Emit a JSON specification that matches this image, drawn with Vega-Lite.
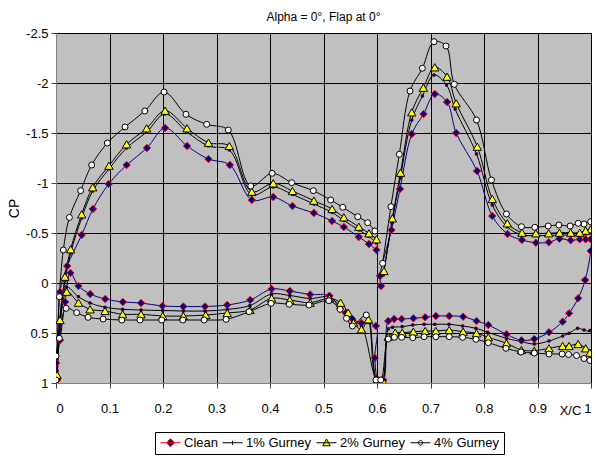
{
"$schema":"https://vega.github.io/schema/vega-lite/v6.json",
"width":535,"height":350,
"autosize":{"type":"none"},
"padding":{"left":56,"top":33,"right":5,"bottom":76},
"background":"white",
"title":{"text":"Alpha = 0°, Flap at 0°","font":"Liberation Sans","fontSize":12,"fontWeight":"normal","color":"black","offset":3},
"config":{"view":{"fill":"#c0c0c0","stroke":"#808080"},
"axis":{"labelFont":"Liberation Sans","labelFontSize":13,"labelColor":"black","titleFont":"Liberation Sans","titleColor":"black","titleFontWeight":"normal","grid":true,"gridColor":"black","gridWidth":1,"gridOpacity":1,"domainColor":"#808080","tickColor":"#404040","tickSize":5}},
"data":{"values":[
{"s":"Clean","i":1,"x":0.599,"cp":-0.33},{"s":"Clean","i":2,"x":0.585,"cp":-0.39},{"s":"Clean","i":3,"x":0.566,"cp":-0.46},{"s":"Clean","i":4,"x":0.538,"cp":-0.56},{"s":"Clean","i":5,"x":0.516,"cp":-0.62},{"s":"Clean","i":6,"x":0.482,"cp":-0.7},{"s":"Clean","i":7,"x":0.442,"cp":-0.77},{"s":"Clean","i":8,"x":0.406,"cp":-0.86},{"s":"Clean","i":9,"x":0.366,"cp":-0.83},{"s":"Clean","i":10,"x":0.325,"cp":-1.18},{"s":"Clean","i":11,"x":0.285,"cp":-1.24},{"s":"Clean","i":12,"x":0.245,"cp":-1.37},{"s":"Clean","i":13,"x":0.204,"cp":-1.55},{"s":"Clean","i":14,"x":0.17,"cp":-1.35},{"s":"Clean","i":15,"x":0.132,"cp":-1.18},{"s":"Clean","i":16,"x":0.0985,"cp":-0.99},{"s":"Clean","i":17,"x":0.069,"cp":-0.74},{"s":"Clean","i":18,"x":0.048,"cp":-0.48},{"s":"Clean","i":19,"x":0.021,"cp":-0.17},{"s":"Clean","i":20,"x":0.0075,"cp":0.09},{"s":"Clean","i":21,"x":0.0025,"cp":0.97},
{"s":"Clean","i":22,"x":0.0,"cp":0.8},{"s":"Clean","i":23,"x":0.0075,"cp":0.57},{"s":"Clean","i":24,"x":0.017,"cp":0.19},{"s":"Clean","i":25,"x":0.027,"cp":-0.1},{"s":"Clean","i":26,"x":0.042,"cp":0.03},{"s":"Clean","i":27,"x":0.064,"cp":0.11},{"s":"Clean","i":28,"x":0.092,"cp":0.16},{"s":"Clean","i":29,"x":0.125,"cp":0.19},{"s":"Clean","i":30,"x":0.159,"cp":0.2},{"s":"Clean","i":31,"x":0.199,"cp":0.23},{"s":"Clean","i":32,"x":0.238,"cp":0.235},{"s":"Clean","i":33,"x":0.2785,"cp":0.235},{"s":"Clean","i":34,"x":0.32,"cp":0.22},{"s":"Clean","i":35,"x":0.363,"cp":0.17},{"s":"Clean","i":36,"x":0.403,"cp":0.06},{"s":"Clean","i":37,"x":0.437,"cp":0.08},{"s":"Clean","i":38,"x":0.475,"cp":0.115},{"s":"Clean","i":39,"x":0.511,"cp":0.127},{"s":"Clean","i":40,"x":0.531,"cp":0.26},{"s":"Clean","i":41,"x":0.542,"cp":0.3},{"s":"Clean","i":42,"x":0.554,"cp":0.36},{"s":"Clean","i":43,"x":0.571,"cp":0.4},
{"s":"Clean","i":44,"x":0.598,"cp":0.43},{"s":"Clean","i":45,"x":0.596,"cp":0.75},{"s":"Clean","i":46,"x":0.6025,"cp":0.97},{"s":"Clean","i":47,"x":0.612,"cp":0.97},{"s":"Clean","i":48,"x":0.621,"cp":0.38},{"s":"Clean","i":49,"x":0.632,"cp":0.36},{"s":"Clean","i":50,"x":0.646,"cp":0.36},{"s":"Clean","i":51,"x":0.668,"cp":0.353},{"s":"Clean","i":52,"x":0.69,"cp":0.343},{"s":"Clean","i":53,"x":0.71,"cp":0.33},{"s":"Clean","i":54,"x":0.735,"cp":0.33},{"s":"Clean","i":55,"x":0.761,"cp":0.337},{"s":"Clean","i":56,"x":0.786,"cp":0.38},{"s":"Clean","i":57,"x":0.808,"cp":0.42},{"s":"Clean","i":58,"x":0.842,"cp":0.513},{"s":"Clean","i":59,"x":0.87,"cp":0.573},{"s":"Clean","i":60,"x":0.894,"cp":0.56},{"s":"Clean","i":61,"x":0.9215,"cp":0.493},{"s":"Clean","i":62,"x":0.947,"cp":0.387},{"s":"Clean","i":63,"x":0.959,"cp":0.303},{"s":"Clean","i":64,"x":0.976,"cp":0.153},{"s":"Clean","i":65,"x":0.989,"cp":-0.03},{"s":"Clean","i":66,"x":0.9995,"cp":-0.32},
{"s":"Clean","i":67,"x":0.9995,"cp":-0.437},{"s":"Clean","i":68,"x":0.99,"cp":-0.437},{"s":"Clean","i":69,"x":0.979,"cp":-0.437},{"s":"Clean","i":70,"x":0.962,"cp":-0.427},{"s":"Clean","i":71,"x":0.941,"cp":-0.443},{"s":"Clean","i":72,"x":0.921,"cp":-0.407},{"s":"Clean","i":73,"x":0.897,"cp":-0.403},{"s":"Clean","i":74,"x":0.871,"cp":-0.43},{"s":"Clean","i":75,"x":0.844,"cp":-0.49},{"s":"Clean","i":76,"x":0.8155,"cp":-0.67},{"s":"Clean","i":77,"x":0.787,"cp":-1.12},{"s":"Clean","i":78,"x":0.748,"cp":-1.5},{"s":"Clean","i":79,"x":0.731,"cp":-1.81},{"s":"Clean","i":80,"x":0.708,"cp":-1.89},{"s":"Clean","i":81,"x":0.687,"cp":-1.69},{"s":"Clean","i":82,"x":0.665,"cp":-1.49},{"s":"Clean","i":83,"x":0.643,"cp":-0.94},{"s":"Clean","i":84,"x":0.627,"cp":-0.53},{"s":"Clean","i":85,"x":0.6056,"cp":-0.07},{"s":"Clean","i":86,"x":0.6075,"cp":0.03},

{"s":"1% Gurney","i":1,"x":0.599,"cp":-0.4},{"s":"1% Gurney","i":2,"x":0.585,"cp":-0.465},{"s":"1% Gurney","i":3,"x":0.566,"cp":-0.53},{"s":"1% Gurney","i":4,"x":0.538,"cp":-0.625},{"s":"1% Gurney","i":5,"x":0.516,"cp":-0.705},{"s":"1% Gurney","i":6,"x":0.482,"cp":-0.79},{"s":"1% Gurney","i":7,"x":0.442,"cp":-0.885},{"s":"1% Gurney","i":8,"x":0.406,"cp":-0.96},{"s":"1% Gurney","i":9,"x":0.366,"cp":-0.88},{"s":"1% Gurney","i":10,"x":0.324,"cp":-1.33},{"s":"1% Gurney","i":11,"x":0.285,"cp":-1.37},{"s":"1% Gurney","i":12,"x":0.245,"cp":-1.51},{"s":"1% Gurney","i":13,"x":0.204,"cp":-1.69},{"s":"1% Gurney","i":14,"x":0.1695,"cp":-1.51},{"s":"1% Gurney","i":15,"x":0.132,"cp":-1.35},{"s":"1% Gurney","i":16,"x":0.099,"cp":-1.14},{"s":"1% Gurney","i":17,"x":0.0686,"cp":-0.92},{"s":"1% Gurney","i":18,"x":0.048,"cp":-0.65},{"s":"1% Gurney","i":19,"x":0.0274,"cp":-0.3},{"s":"1% Gurney","i":20,"x":0.0168,"cp":-0.02},{"s":"1% Gurney","i":21,"x":0.0075,"cp":0.42},{"s":"1% Gurney","i":22,"x":0.002,"cp":0.88},
{"s":"1% Gurney","i":23,"x":0.019,"cp":0.04},{"s":"1% Gurney","i":24,"x":0.0417,"cp":0.137},{"s":"1% Gurney","i":25,"x":0.0636,"cp":0.2},{"s":"1% Gurney","i":26,"x":0.0916,"cp":0.243},{"s":"1% Gurney","i":27,"x":0.1246,"cp":0.263},{"s":"1% Gurney","i":28,"x":0.159,"cp":0.27},{"s":"1% Gurney","i":29,"x":0.1994,"cp":0.275},{"s":"1% Gurney","i":30,"x":0.238,"cp":0.28},{"s":"1% Gurney","i":31,"x":0.2785,"cp":0.28},{"s":"1% Gurney","i":32,"x":0.32,"cp":0.265},{"s":"1% Gurney","i":33,"x":0.3626,"cp":0.225},{"s":"1% Gurney","i":34,"x":0.403,"cp":0.11},{"s":"1% Gurney","i":35,"x":0.437,"cp":0.125},{"s":"1% Gurney","i":36,"x":0.475,"cp":0.155},{"s":"1% Gurney","i":37,"x":0.511,"cp":0.14},{"s":"1% Gurney","i":38,"x":0.531,"cp":0.23},{"s":"1% Gurney","i":39,"x":0.544,"cp":0.3},{"s":"1% Gurney","i":40,"x":0.555,"cp":0.38},{"s":"1% Gurney","i":41,"x":0.571,"cp":0.43},
{"s":"1% Gurney","i":42,"x":0.6,"cp":0.97},{"s":"1% Gurney","i":43,"x":0.61,"cp":0.97},{"s":"1% Gurney","i":44,"x":0.621,"cp":0.46},{"s":"1% Gurney","i":45,"x":0.629,"cp":0.443},{"s":"1% Gurney","i":46,"x":0.647,"cp":0.437},{"s":"1% Gurney","i":47,"x":0.667,"cp":0.42},{"s":"1% Gurney","i":48,"x":0.688,"cp":0.413},{"s":"1% Gurney","i":49,"x":0.708,"cp":0.413},{"s":"1% Gurney","i":50,"x":0.7346,"cp":0.413},{"s":"1% Gurney","i":51,"x":0.76,"cp":0.43},{"s":"1% Gurney","i":52,"x":0.785,"cp":0.453},{"s":"1% Gurney","i":53,"x":0.807,"cp":0.493},{"s":"1% Gurney","i":54,"x":0.842,"cp":0.553},{"s":"1% Gurney","i":55,"x":0.87,"cp":0.587},{"s":"1% Gurney","i":56,"x":0.894,"cp":0.61},{"s":"1% Gurney","i":57,"x":0.9215,"cp":0.58},{"s":"1% Gurney","i":58,"x":0.947,"cp":0.53},{"s":"1% Gurney","i":59,"x":0.959,"cp":0.503},{"s":"1% Gurney","i":60,"x":0.975,"cp":0.453},{"s":"1% Gurney","i":61,"x":0.987,"cp":0.47},{"s":"1% Gurney","i":62,"x":0.998,"cp":0.477},
{"s":"1% Gurney","i":63,"x":0.9995,"cp":-0.5},{"s":"1% Gurney","i":64,"x":0.99,"cp":-0.49},{"s":"1% Gurney","i":65,"x":0.979,"cp":-0.48},{"s":"1% Gurney","i":66,"x":0.962,"cp":-0.48},{"s":"1% Gurney","i":67,"x":0.941,"cp":-0.48},{"s":"1% Gurney","i":68,"x":0.921,"cp":-0.475},{"s":"1% Gurney","i":69,"x":0.897,"cp":-0.475},{"s":"1% Gurney","i":70,"x":0.871,"cp":-0.48},{"s":"1% Gurney","i":71,"x":0.8436,"cp":-0.56},{"s":"1% Gurney","i":72,"x":0.8155,"cp":-0.78},{"s":"1% Gurney","i":73,"x":0.786,"cp":-1.29},{"s":"1% Gurney","i":74,"x":0.746,"cp":-1.74},{"s":"1% Gurney","i":75,"x":0.73,"cp":-1.98},{"s":"1% Gurney","i":76,"x":0.7065,"cp":-2.08},{"s":"1% Gurney","i":77,"x":0.685,"cp":-1.87},{"s":"1% Gurney","i":78,"x":0.665,"cp":-1.63},{"s":"1% Gurney","i":79,"x":0.6435,"cp":-1.05},{"s":"1% Gurney","i":80,"x":0.628,"cp":-0.6},{"s":"1% Gurney","i":81,"x":0.612,"cp":-0.08},

{"s":"2% Gurney","i":1,"x":0.599,"cp":-0.437},{"s":"2% Gurney","i":2,"x":0.585,"cp":-0.497},{"s":"2% Gurney","i":3,"x":0.566,"cp":-0.563},{"s":"2% Gurney","i":4,"x":0.538,"cp":-0.657},{"s":"2% Gurney","i":5,"x":0.516,"cp":-0.74},{"s":"2% Gurney","i":6,"x":0.482,"cp":-0.823},{"s":"2% Gurney","i":7,"x":0.442,"cp":-0.92},{"s":"2% Gurney","i":8,"x":0.406,"cp":-0.997},{"s":"2% Gurney","i":9,"x":0.366,"cp":-0.913},{"s":"2% Gurney","i":10,"x":0.324,"cp":-1.37},{"s":"2% Gurney","i":11,"x":0.285,"cp":-1.403},{"s":"2% Gurney","i":12,"x":0.245,"cp":-1.547},{"s":"2% Gurney","i":13,"x":0.204,"cp":-1.723},{"s":"2% Gurney","i":14,"x":0.1695,"cp":-1.547},{"s":"2% Gurney","i":15,"x":0.132,"cp":-1.387},{"s":"2% Gurney","i":16,"x":0.099,"cp":-1.173},{"s":"2% Gurney","i":17,"x":0.0686,"cp":-0.957},{"s":"2% Gurney","i":18,"x":0.048,"cp":-0.687},{"s":"2% Gurney","i":19,"x":0.0274,"cp":-0.337},{"s":"2% Gurney","i":20,"x":0.0168,"cp":-0.063},{"s":"2% Gurney","i":21,"x":0.0075,"cp":0.37},{"s":"2% Gurney","i":22,"x":0.002,"cp":0.92},
{"s":"2% Gurney","i":23,"x":0.02,"cp":0.087},{"s":"2% Gurney","i":24,"x":0.042,"cp":0.197},{"s":"2% Gurney","i":25,"x":0.0636,"cp":0.263},{"s":"2% Gurney","i":26,"x":0.0916,"cp":0.28},{"s":"2% Gurney","i":27,"x":0.1246,"cp":0.313},{"s":"2% Gurney","i":28,"x":0.159,"cp":0.313},{"s":"2% Gurney","i":29,"x":0.1994,"cp":0.33},{"s":"2% Gurney","i":30,"x":0.238,"cp":0.33},{"s":"2% Gurney","i":31,"x":0.28,"cp":0.32},{"s":"2% Gurney","i":32,"x":0.32,"cp":0.3},{"s":"2% Gurney","i":33,"x":0.3626,"cp":0.27},{"s":"2% Gurney","i":34,"x":0.403,"cp":0.153},{"s":"2% Gurney","i":35,"x":0.437,"cp":0.17},{"s":"2% Gurney","i":36,"x":0.475,"cp":0.197},{"s":"2% Gurney","i":37,"x":0.511,"cp":0.153},{"s":"2% Gurney","i":38,"x":0.532,"cp":0.197},{"s":"2% Gurney","i":39,"x":0.546,"cp":0.297},{"s":"2% Gurney","i":40,"x":0.556,"cp":0.397},{"s":"2% Gurney","i":41,"x":0.571,"cp":0.463},{"s":"2% Gurney","i":42,"x":0.584,"cp":0.363},
{"s":"2% Gurney","i":43,"x":0.6,"cp":0.97},{"s":"2% Gurney","i":44,"x":0.61,"cp":0.97},{"s":"2% Gurney","i":45,"x":0.621,"cp":0.537},{"s":"2% Gurney","i":46,"x":0.634,"cp":0.497},{"s":"2% Gurney","i":47,"x":0.647,"cp":0.497},{"s":"2% Gurney","i":48,"x":0.668,"cp":0.487},{"s":"2% Gurney","i":49,"x":0.69,"cp":0.48},{"s":"2% Gurney","i":50,"x":0.71,"cp":0.48},{"s":"2% Gurney","i":51,"x":0.735,"cp":0.47},{"s":"2% Gurney","i":52,"x":0.761,"cp":0.487},{"s":"2% Gurney","i":53,"x":0.786,"cp":0.503},{"s":"2% Gurney","i":54,"x":0.808,"cp":0.543},{"s":"2% Gurney","i":55,"x":0.842,"cp":0.603},{"s":"2% Gurney","i":56,"x":0.87,"cp":0.67},{"s":"2% Gurney","i":57,"x":0.894,"cp":0.677},{"s":"2% Gurney","i":58,"x":0.9215,"cp":0.653},{"s":"2% Gurney","i":59,"x":0.947,"cp":0.63},{"s":"2% Gurney","i":60,"x":0.959,"cp":0.63},{"s":"2% Gurney","i":61,"x":0.976,"cp":0.61},{"s":"2% Gurney","i":62,"x":0.99,"cp":0.653},{"s":"2% Gurney","i":63,"x":0.998,"cp":0.697},
{"s":"2% Gurney","i":64,"x":0.9995,"cp":-0.537},{"s":"2% Gurney","i":65,"x":0.99,"cp":-0.523},{"s":"2% Gurney","i":66,"x":0.979,"cp":-0.503},{"s":"2% Gurney","i":67,"x":0.962,"cp":-0.503},{"s":"2% Gurney","i":68,"x":0.941,"cp":-0.503},{"s":"2% Gurney","i":69,"x":0.921,"cp":-0.497},{"s":"2% Gurney","i":70,"x":0.897,"cp":-0.497},{"s":"2% Gurney","i":71,"x":0.871,"cp":-0.503},{"s":"2% Gurney","i":72,"x":0.8436,"cp":-0.597},{"s":"2% Gurney","i":73,"x":0.8155,"cp":-0.84},{"s":"2% Gurney","i":74,"x":0.7875,"cp":-1.363},{"s":"2% Gurney","i":75,"x":0.748,"cp":-1.797},{"s":"2% Gurney","i":76,"x":0.731,"cp":-2.063},{"s":"2% Gurney","i":77,"x":0.708,"cp":-2.157},{"s":"2% Gurney","i":78,"x":0.6866,"cp":-1.953},{"s":"2% Gurney","i":79,"x":0.665,"cp":-1.707},{"s":"2% Gurney","i":80,"x":0.644,"cp":-1.103},{"s":"2% Gurney","i":81,"x":0.6287,"cp":-0.647},{"s":"2% Gurney","i":82,"x":0.613,"cp":-0.12},

{"s":"4% Gurney","i":1,"x":0.596,"cp":-0.52},{"s":"4% Gurney","i":2,"x":0.5826,"cp":-0.603},{"s":"4% Gurney","i":3,"x":0.564,"cp":-0.663},{"s":"4% Gurney","i":4,"x":0.536,"cp":-0.757},{"s":"4% Gurney","i":5,"x":0.5134,"cp":-0.83},{"s":"4% Gurney","i":6,"x":0.481,"cp":-0.923},{"s":"4% Gurney","i":7,"x":0.4405,"cp":-1.003},{"s":"4% Gurney","i":8,"x":0.404,"cp":-1.097},{"s":"4% Gurney","i":9,"x":0.364,"cp":-0.97},{"s":"4% Gurney","i":10,"x":0.322,"cp":-1.53},{"s":"4% Gurney","i":11,"x":0.2816,"cp":-1.587},{"s":"4% Gurney","i":12,"x":0.243,"cp":-1.687},{"s":"4% Gurney","i":13,"x":0.202,"cp":-1.91},{"s":"4% Gurney","i":14,"x":0.166,"cp":-1.72},{"s":"4% Gurney","i":15,"x":0.129,"cp":-1.56},{"s":"4% Gurney","i":16,"x":0.096,"cp":-1.4},{"s":"4% Gurney","i":17,"x":0.0667,"cp":-1.18},{"s":"4% Gurney","i":18,"x":0.046,"cp":-0.923},{"s":"4% Gurney","i":19,"x":0.025,"cp":-0.655},{"s":"4% Gurney","i":20,"x":0.0137,"cp":-0.33},{"s":"4% Gurney","i":21,"x":0.0062,"cp":0.137},{"s":"4% Gurney","i":22,"x":0.0,"cp":0.97},
{"s":"4% Gurney","i":23,"x":0.0,"cp":0.73},{"s":"4% Gurney","i":24,"x":0.0062,"cp":0.553},{"s":"4% Gurney","i":25,"x":0.019,"cp":0.253},{"s":"4% Gurney","i":26,"x":0.0386,"cp":0.297},{"s":"4% Gurney","i":27,"x":0.06,"cp":0.343},{"s":"4% Gurney","i":28,"x":0.088,"cp":0.36},{"s":"4% Gurney","i":29,"x":0.123,"cp":0.37},{"s":"4% Gurney","i":30,"x":0.157,"cp":0.37},{"s":"4% Gurney","i":31,"x":0.1975,"cp":0.37},{"s":"4% Gurney","i":32,"x":0.237,"cp":0.37},{"s":"4% Gurney","i":33,"x":0.277,"cp":0.37},{"s":"4% Gurney","i":34,"x":0.318,"cp":0.363},{"s":"4% Gurney","i":35,"x":0.361,"cp":0.287},{"s":"4% Gurney","i":36,"x":0.402,"cp":0.203},{"s":"4% Gurney","i":37,"x":0.436,"cp":0.213},{"s":"4% Gurney","i":38,"x":0.473,"cp":0.22},{"s":"4% Gurney","i":39,"x":0.51,"cp":0.177},{"s":"4% Gurney","i":40,"x":0.531,"cp":0.263},{"s":"4% Gurney","i":41,"x":0.543,"cp":0.353},{"s":"4% Gurney","i":42,"x":0.554,"cp":0.43},{"s":"4% Gurney","i":43,"x":0.58,"cp":0.32},
{"s":"4% Gurney","i":44,"x":0.598,"cp":0.97},{"s":"4% Gurney","i":45,"x":0.607,"cp":0.97},{"s":"4% Gurney","i":46,"x":0.621,"cp":0.56},{"s":"4% Gurney","i":47,"x":0.6325,"cp":0.543},{"s":"4% Gurney","i":48,"x":0.646,"cp":0.543},{"s":"4% Gurney","i":49,"x":0.667,"cp":0.547},{"s":"4% Gurney","i":50,"x":0.688,"cp":0.537},{"s":"4% Gurney","i":51,"x":0.71,"cp":0.537},{"s":"4% Gurney","i":52,"x":0.735,"cp":0.537},{"s":"4% Gurney","i":53,"x":0.76,"cp":0.543},{"s":"4% Gurney","i":54,"x":0.785,"cp":0.563},{"s":"4% Gurney","i":55,"x":0.808,"cp":0.597},{"s":"4% Gurney","i":56,"x":0.841,"cp":0.653},{"s":"4% Gurney","i":57,"x":0.869,"cp":0.69},{"s":"4% Gurney","i":58,"x":0.894,"cp":0.7},{"s":"4% Gurney","i":59,"x":0.9215,"cp":0.71},{"s":"4% Gurney","i":60,"x":0.946,"cp":0.71},{"s":"4% Gurney","i":61,"x":0.958,"cp":0.715},{"s":"4% Gurney","i":62,"x":0.973,"cp":0.725},{"s":"4% Gurney","i":63,"x":0.987,"cp":0.755},{"s":"4% Gurney","i":64,"x":0.998,"cp":0.775},
{"s":"4% Gurney","i":65,"x":0.9995,"cp":-0.613},{"s":"4% Gurney","i":66,"x":0.987,"cp":-0.59},{"s":"4% Gurney","i":67,"x":0.976,"cp":-0.597},{"s":"4% Gurney","i":68,"x":0.961,"cp":-0.57},{"s":"4% Gurney","i":69,"x":0.94,"cp":-0.58},{"s":"4% Gurney","i":70,"x":0.92,"cp":-0.57},{"s":"4% Gurney","i":71,"x":0.895,"cp":-0.557},{"s":"4% Gurney","i":72,"x":0.87,"cp":-0.563},{"s":"4% Gurney","i":73,"x":0.842,"cp":-0.69},{"s":"4% Gurney","i":74,"x":0.814,"cp":-1.03},{"s":"4% Gurney","i":75,"x":0.786,"cp":-1.63},{"s":"4% Gurney","i":76,"x":0.7445,"cp":-1.987},{"s":"4% Gurney","i":77,"x":0.729,"cp":-2.37},{"s":"4% Gurney","i":78,"x":0.7065,"cp":-2.413},{"s":"4% Gurney","i":79,"x":0.6847,"cp":-2.147},{"s":"4% Gurney","i":80,"x":0.6617,"cp":-1.92},{"s":"4% Gurney","i":81,"x":0.6417,"cp":-1.287},{"s":"4% Gurney","i":82,"x":0.626,"cp":-0.763},{"s":"4% Gurney","i":83,"x":0.6106,"cp":-0.197}
]},
"encoding":{
"x":{"field":"x","type":"quantitative","scale":{"domain":[0,1],"nice":false,"zero":false},
"axis":{"values":[0,0.1,0.2,0.3,0.4,0.5,0.6,0.7,0.8,0.9,1],"labelExpr":"toString(datum.value)","labelPadding":14,"title":"X/C","titleFontSize":13,"titleX":514,"titleY":27,"titleBaseline":"middle","titleAnchor":"start","titleAlign":"center"}},
"y":{"field":"cp","type":"quantitative","scale":{"domain":[-2.5,1],"reverse":true,"nice":false,"zero":false},
"axis":{"values":[-2.5,-2,-1.5,-1,-0.5,0,0.5,1],"labelExpr":"toString(datum.value)","labelPadding":3,"title":"CP","titleFontSize":14,"titlePadding":4}}
},
"layer":[
{"mark":{"type":"line","interpolate":"catmull-rom","strokeWidth":1,"clip":true},
"encoding":{"order":{"field":"i","type":"quantitative"},"detail":{"field":"s"},
"color":{"condition":{"test":"datum.s==='Clean'","value":"#000080"},"value":"#000000"}}},
{"mark":{"type":"point","filled":true,"opacity":1,"strokeWidth":1,"clip":true},
"encoding":{
"shape":{"condition":[{"test":"datum.s==='Clean'","value":"diamond"},{"test":"datum.s==='1% Gurney'","value":"square"},{"test":"datum.s==='2% Gurney'","value":"triangle-up"}],"value":"circle"},
"fill":{"condition":[{"test":"datum.s==='Clean'","value":"#000080"},{"test":"datum.s==='1% Gurney'","value":"#330033"},{"test":"datum.s==='2% Gurney'","value":"#ffff00"}],"value":"#ffffff"},
"stroke":{"condition":[{"test":"datum.s==='Clean'","value":"#ff0000"},{"test":"datum.s==='1% Gurney'","value":"#330033"}],"value":"#000000"},
"size":{"condition":[{"test":"datum.s==='Clean'","value":55},{"test":"datum.s==='1% Gurney'","value":5},{"test":"datum.s==='2% Gurney'","value":70}],"value":36}
}},
{"transform":[{"filter":"datum.i < 0"}],
"mark":{"type":"point","filled":true,"opacity":1,"strokeWidth":1},
"encoding":{
"shape":{"field":"s","type":"nominal","scale":{"domain":["Clean","1% Gurney","2% Gurney","4% Gurney"],"range":["M-1,0H3M1,-0.8L1.8,0L1,0.8L0.2,0Z","M-1,0H3M1,-0.4V0.4","M-1,0H3M1,-0.75L1.75,0.6L0.25,0.6Z","M-1,0H3M1.45,0A0.45,0.45,0,1,1,0.55,0A0.45,0.45,0,1,1,1.45,0Z"]},
"legend":{"orient":"none","legendX":99,"legendY":399,"direction":"horizontal","title":null,"strokeColor":"black","fillColor":"white","padding":4,"labelFont":"Liberation Sans","labelFontSize":13,"labelColor":"black","columnPadding":2,"labelOffset":12,"symbolSize":100,"symbolStrokeWidth":1}},
"fill":{"field":"s","type":"nominal","scale":{"domain":["Clean","1% Gurney","2% Gurney","4% Gurney"],"range":["#000080","#330033","#ffff00","#ffffff"]},
"legend":{"orient":"none","legendX":99,"legendY":399,"direction":"horizontal","title":null,"strokeColor":"black","fillColor":"white","padding":4,"labelFont":"Liberation Sans","labelFontSize":13,"labelColor":"black","columnPadding":2,"labelOffset":12,"symbolSize":100,"symbolStrokeWidth":1}},
"stroke":{"field":"s","type":"nominal","scale":{"domain":["Clean","1% Gurney","2% Gurney","4% Gurney"],"range":["#ff0000","#000000","#000000","#000000"]},
"legend":{"orient":"none","legendX":99,"legendY":399,"direction":"horizontal","title":null,"strokeColor":"black","fillColor":"white","padding":4,"labelFont":"Liberation Sans","labelFontSize":13,"labelColor":"black","columnPadding":2,"labelOffset":12,"symbolSize":100,"symbolStrokeWidth":1}}
}}
]
}
